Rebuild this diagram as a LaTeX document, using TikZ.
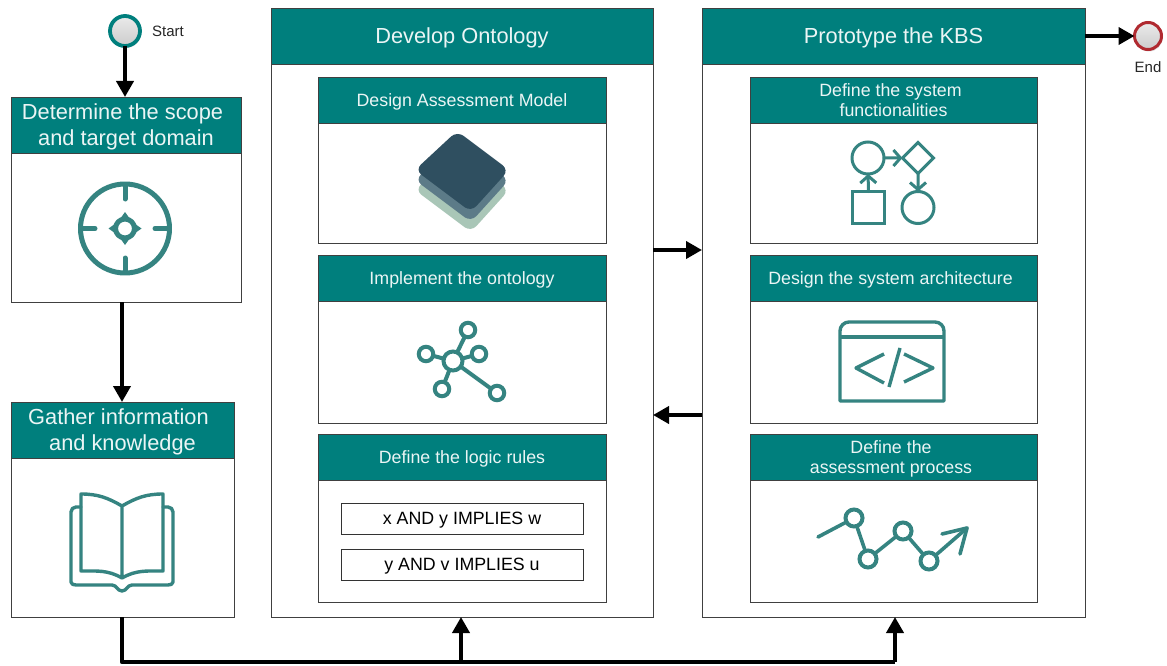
\documentclass[tikz,border=0pt]{standalone}
\usepackage{fontspec}
\setmainfont{Liberation Sans}
\usetikzlibrary{arrows.meta,shadows}
\definecolor{tealhead}{HTML}{007F7D}
\definecolor{tealicon}{HTML}{358481}
\definecolor{layerdark}{HTML}{2F4F60}
\definecolor{layermid}{HTML}{5C7B88}
\definecolor{layerlight}{HTML}{A9C6B7}
\definecolor{endred}{HTML}{B02A30}
\tikzset{
    bodybox/.style = {draw=black!75, line width=0.9pt, fill=white, inner sep=0pt, outer sep=0pt, anchor=north west},
    headbox/.style = {draw=black!75, line width=0.9pt, fill=tealhead, text=white!92!tealhead, inner sep=0pt, outer sep=0pt, align=center, anchor=north, text depth=0pt},
    bighead/.style = {headbox, minimum height=56pt, font=\fontsize{21.8}{26}\selectfont},
    smallhead/.style = {headbox, minimum height=46pt, font=\fontsize{17.8}{20.5}\selectfont},
    rulebox/.style = {draw=black!80, line width=0.8pt, fill=white, inner sep=0pt, outer sep=0pt, minimum width=242pt, minimum height=31pt, text depth=0pt, font=\fontsize{17.8}{20}\selectfont},
    flow/.style = {line width=3.8pt, black, -{Triangle[length=16pt,width=17pt]}},
    bus/.style = {line width=4.6pt, black, line join=round},
    icon/.style = {draw=tealicon, line width=3.4pt, line join=round, line cap=round},
    openhead/.style = {-{Straight Barb[length=7pt,width=16pt,line width=3pt]}},
    ring/.style = {circle, draw=tealicon, fill=white, line width=4pt, inner sep=0pt, outer sep=0pt, minimum size=#1},
    layer/.style = {rounded corners=8pt, draw=none},
    shapeicon/.style = {draw=tealicon, line width=3pt, inner sep=0pt, outer sep=0pt},
    eventnode/.style = {circle, inner sep=0pt, outer sep=0pt, top color=black!8, bottom color=black!20, drop shadow={opacity=0.25,shadow xshift=1pt,shadow yshift=-2pt}},
    caption/.style = {inner sep=0pt, font=\fontsize{15}{17}\selectfont, text=black!85}
}
\begin{document}
\begin{tikzpicture}[x=1pt,y=-1pt]
    \useasboundingbox (0,0) rectangle (1167,666);

    % outer boxes
    \node[bodybox, minimum width=230pt, minimum height=205pt] (scope) at (11,97) {};
    \node[bighead, minimum width=230pt] (scopehead) at (scope.north) {Determine the scope\hspace*{7pt}\\and target domain};
    \node[bodybox, minimum width=223pt, minimum height=215pt] (gather) at (11,402) {};
    \node[bighead, minimum width=223pt] (gatherhead) at (gather.north) {Gather information\hspace*{8pt}\\and knowledge};
    \node[bodybox, minimum width=382pt, minimum height=609pt] (onto) at (271,8) {};
    \node[bighead, minimum width=382pt] (ontohead) at (onto.north) {Develop Ontology};
    \node[bodybox, minimum width=383pt, minimum height=609pt] (kbs) at (702,8) {};
    \node[bighead, minimum width=383pt] (kbshead) at (kbs.north) {Prototype the KBS};

    % inner boxes, ontology
    \node[bodybox, minimum width=288pt, minimum height=166pt] (model) at (318,77) {};
    \node[smallhead, minimum width=288pt] (modelhead) at (model.north) {Design Assessment Model};
    \node[bodybox, minimum width=288pt, minimum height=168pt] (impl) at (318,255) {};
    \node[smallhead, minimum width=288pt] (implhead) at (impl.north) {Implement the ontology};
    \node[bodybox, minimum width=288pt, minimum height=168pt] (logic) at (318,434) {};
    \node[smallhead, minimum width=288pt] (logichead) at (logic.north) {Define the logic rules};
    \node[rulebox] (ruleone) at (462,518.5) {x AND y IMPLIES w};
    \node[rulebox] (ruletwo) at (462,564.5) {y AND v IMPLIES u};

    % inner boxes, KBS
    \node[bodybox, minimum width=287pt, minimum height=166pt] (func) at (750,77) {};
    \node[smallhead, minimum width=287pt] (funchead) at (func.north) {Define the system\hspace*{6pt}\\functionalities};
    \node[bodybox, minimum width=287pt, minimum height=168pt] (arch) at (750,255) {};
    \node[smallhead, minimum width=287pt] (archhead) at (arch.north) {Design the system architecture\hspace*{6pt}};
    \node[bodybox, minimum width=287pt, minimum height=168pt] (proc) at (750,434) {};
    \node[smallhead, minimum width=287pt] (prochead) at (proc.north) {Define the\hspace*{5pt}\\assessment process\hspace*{5pt}};

    % events
    \node[eventnode, draw=tealhead, line width=3.8pt, minimum size=30pt] (start) at (125,31) {};
    \node[caption, anchor=west] (startlabel) at (152,31) {Start};
    \node[eventnode, draw=endred, line width=3pt, minimum size=27pt] (end) at (1148,36) {};
    \node[caption, anchor=north] (endlabel) at (1148,61) {End};

    % connectors
    \coordinate (busleft) at (122,662);
    \coordinate (busmid) at (461,662);
    \coordinate (busright) at (895,662);
    \coordinate (rightout) at (653,250);
    \coordinate (leftback) at (702,415);
    \coordinate (scopedown) at (122,302);
    \draw[flow] (start) -- (scope.north -| start);
    \draw[flow] (scopedown) -- (gather.north -| scopedown);
    \draw[flow] (rightout) -- (kbs.west |- rightout);
    \draw[flow] (leftback) -- (onto.east |- leftback);
    \draw[flow] (kbshead.east |- end) -- (end);
    \draw[bus] (gather.south -| busleft) -- (busleft) -- (busright);
    \draw[flow] (busmid) -- (onto.south -| busmid);
    \draw[flow] (busright) -- (kbs.south -| busright);

    % target icon
    \draw[icon, line width=5pt] (125,228.5) circle (44.5);
    \draw[icon, line width=5pt] (125,185) -- (125,199) (125,258) -- (125,272) (81,228.5) -- (95,228.5) (155,228.5) -- (169,228.5);
    \draw[icon, line width=5pt] (125,228.5) circle (9.5);
    \fill[tealicon] (125,212) -- (130,219) -- (120,219) -- cycle (125,245) -- (130,238) -- (120,238) -- cycle;
    \fill[tealicon] (108.5,228.5) -- (115.5,223.5) -- (115.5,233.5) -- cycle (141.5,228.5) -- (134.5,223.5) -- (134.5,233.5) -- cycle;

    % book icon
    \draw[icon] (81,507) -- (76,507) to[out=180,in=90] (71,512) -- (71,582) to[out=-90,in=180] (76,585) -- (112,585) to[out=0,in=180] (122,591) to[out=0,in=180] (132,585) -- (168,585) to[out=0,in=-90] (173,582) -- (173,512) to[out=90,in=0] (168,507) -- (163,507);
    \draw[icon] (122,506) to[out=150,in=0] (81,494) -- (81,571) to[out=0,in=150] (122,578) to[out=30,in=180] (163,571) -- (163,494) to[out=180,in=30] (122,506) -- (122,578);

    % layers icon
    \fill[layer, layerlight] (457,151) -- (509,190) -- (471,232) -- (415,190) -- cycle;
    \fill[layer, layermid] (457,141) -- (509,180) -- (471,222) -- (415,180) -- cycle;
    \fill[layer, layerdark] (457,131) -- (509,170) -- (471,212) -- (415,170) -- cycle;

    % network icon
    \draw[icon, line width=4pt] (453,361) -- (468,330) (453,361) -- (426,354) (453,361) -- (479,354) (453,361) -- (442,389) (453,361) -- (497,393);
    \node[ring=19pt] (hub) at (453,361) {};
    \node[ring=14.5pt] (nodeup) at (468,330) {};
    \node[ring=14.5pt] (nodeleft) at (426,354) {};
    \node[ring=14.5pt] (noderight) at (479,354) {};
    \node[ring=14.5pt] (nodedown) at (442,389) {};
    \node[ring=14.5pt] (nodefar) at (497,393) {};

    % process flow icon
    \node[shapeicon, circle, minimum size=32pt] (flowa) at (868,158) {};
    \node[shapeicon, minimum size=22pt, rotate=45] (flowb) at (918,158) {};
    \node[shapeicon, minimum size=32pt] (flowc) at (868.5,207.5) {};
    \node[shapeicon, circle, minimum size=32pt] (flowd) at (918,207.5) {};
    \draw[icon, openhead, line width=3pt] (flowa) -- (flowb);
    \draw[icon, openhead, line width=3pt] (flowc) -- (flowa);
    \draw[icon, openhead, line width=3pt] (flowb) -- (flowd);

    % code window icon
    \draw[icon, line cap=butt] (840,401) -- (840,331) to[out=90,in=180] (849,322) -- (935,322) to[out=0,in=90] (944,331) -- (944,401) -- cycle;
    \draw[icon, line cap=butt] (840,337) -- (944,337);
    \draw[icon, line cap=butt] (884,354) -- (856,368) -- (884,383);
    \draw[icon, line cap=butt] (900,348) -- (889,387);
    \draw[icon, line cap=butt] (904,354) -- (933,368) -- (904,382);

    % chart icon
    \coordinate (chartstart) at (818,537);
    \coordinate (charttip) at (967,528);
    \draw[icon, line width=3.6pt] (chartstart) -- (854,518) -- (868,559) -- (903,531) -- (929,561) -- (charttip);
    \draw[icon, line width=3.6pt] (942,534) -- (charttip) -- (960,554);
    \node[ring=17pt] (charta) at (854,518) {};
    \node[ring=17pt] (chartb) at (868,559) {};
    \node[ring=17pt] (chartc) at (903,531) {};
    \node[ring=17pt] (chartd) at (929,561) {};
\end{tikzpicture}
\end{document}
